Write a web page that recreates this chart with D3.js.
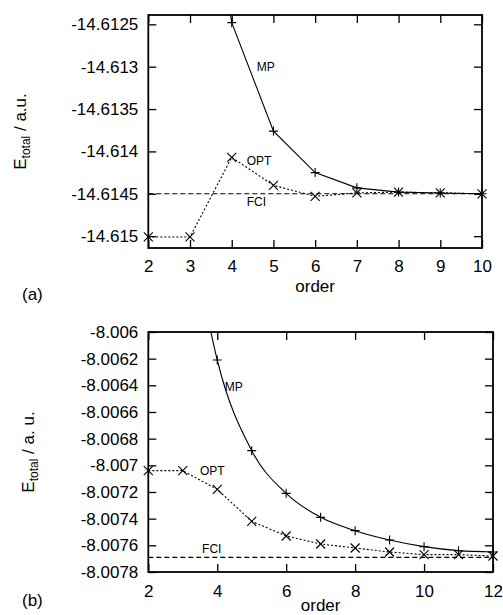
<!DOCTYPE html>
<html>
<head>
<meta charset="utf-8">
<script src="https://cdn.jsdelivr.net/npm/d3@7"></script>
<style>
  html, body { margin: 0; padding: 0; background: #fff; }
  svg { display: block; }
  text { font-family: "Liberation Sans", Arial, Helvetica, sans-serif; fill: #000; }
</style>
</head>
<body>
<script>
// ---------- data ----------
const ordersA = [2, 3, 4, 5, 6, 7, 8, 9, 10];
const mpA  = [null, -14.6092, -14.61248, -14.61376, -14.61425, -14.61443, -14.61448, -14.61449, -14.61450];
const optA = [-14.61501, -14.61501, -14.61407, -14.61440, -14.61453, -14.61449, -14.61448, -14.61449, -14.61450];
const fciA = -14.61450;
const yTicksA = [-14.6125, -14.613, -14.6135, -14.614, -14.6145, -14.615];
const xTicksA = [2, 3, 4, 5, 6, 7, 8, 9, 10];

const ordersB = [2, 3, 4, 5, 6, 7, 8, 9, 10, 11, 12];
const mpB  = [null, -8.0048, -8.00621, -8.00689, -8.00721, -8.00739, -8.00749, -8.00756, -8.00761, -8.00764, -8.00765];
const optB = [-8.00704, -8.00704, -8.00718, -8.00742, -8.00753, -8.00759, -8.00762, -8.00765, -8.00767, -8.00767, -8.00768];
const fciB = -8.00769;
const yTicksB = [-8.006, -8.0062, -8.0064, -8.0066, -8.0068, -8.007, -8.0072, -8.0074, -8.0076, -8.0078];
const xTicksB = [2, 4, 6, 8, 10, 12];

// ---------- drawing ----------
const W = 503, H = 615;
const svg = d3.select("body").append("svg").attr("width", W).attr("height", H);
svg.append("rect").attr("width", W).attr("height", H).attr("fill", "#fff");

const fmt = d => String(+d.toFixed(5));

function panel(cfg) {
  const x = d3.scaleLinear().domain(cfg.xDomain).range([cfg.left, cfg.right]);
  const y = d3.scaleLinear().domain(cfg.yDomain).range([cfg.bottom, cfg.top]);
  const g = svg.append("g");

  const clipId = "clip" + cfg.id;
  svg.append("clipPath").attr("id", clipId).append("rect")
    .attr("x", cfg.left).attr("y", cfg.top)
    .attr("width", cfg.right - cfg.left).attr("height", cfg.bottom - cfg.top);

  const styleAxis = sel => {
    sel.select(".domain").remove();
    sel.selectAll(".tick line").attr("stroke", "#000").attr("stroke-width", 1.3);
    sel.selectAll("text").style("font-size", "17px").attr("fill", "#000");
  };

  g.append("g").attr("transform", `translate(${cfg.left},0)`)
    .call(d3.axisLeft(y).tickValues(cfg.yTicks).tickFormat(fmt).tickSizeInner(-8).tickSizeOuter(0).tickPadding(10))
    .call(styleAxis);
  g.append("g").attr("transform", `translate(${cfg.right},0)`)
    .call(d3.axisRight(y).tickValues(cfg.yTicks).tickFormat("").tickSizeInner(-8).tickSizeOuter(0))
    .call(styleAxis);
  g.append("g").attr("transform", `translate(0,${cfg.bottom})`)
    .call(d3.axisBottom(x).tickValues(cfg.xTicks).tickFormat(d3.format("d")).tickSizeInner(-8).tickSizeOuter(0).tickPadding(cfg.xPad))
    .call(styleAxis);
  g.append("g").attr("transform", `translate(0,${cfg.top})`)
    .call(d3.axisTop(x).tickValues(cfg.xTicks).tickFormat("").tickSizeInner(-8).tickSizeOuter(0))
    .call(styleAxis);

  // FCI dashed line
  g.append("line").attr("clip-path", `url(#${clipId})`)
    .attr("x1", cfg.left).attr("x2", cfg.right)
    .attr("y1", y(cfg.fci)).attr("y2", y(cfg.fci))
    .attr("stroke", "#000").attr("stroke-width", 1.1).attr("stroke-dasharray", "5,3");

  const mpData = cfg.orders.map((o, i) => ({ o, v: cfg.mp[i] })).filter(d => d.v !== null);
  const optData = cfg.orders.map((o, i) => ({ o, v: cfg.opt[i] })).filter(d => d.v !== null);

  const lineMP = d3.line().x(d => x(d.o)).y(d => y(d.v)).curve(cfg.mpCurve);
  const lineOPT = d3.line().x(d => x(d.o)).y(d => y(d.v));

  g.append("path").datum(mpData).attr("clip-path", `url(#${clipId})`)
    .attr("d", lineMP).attr("fill", "none").attr("stroke", "#000").attr("stroke-width", 1.1);
  g.append("path").datum(optData).attr("clip-path", `url(#${clipId})`)
    .attr("d", lineOPT).attr("fill", "none").attr("stroke", "#000").attr("stroke-width", 1.1)
    .attr("stroke-dasharray", "2,2");

  const s = 4.5;
  const inView = d => y(d.v) >= cfg.top - 1 && y(d.v) <= cfg.bottom + 1;
  g.selectAll(".mpm").data(mpData.filter(inView)).join("path")
    .attr("d", d => `M${x(d.o) - s},${y(d.v)}H${x(d.o) + s}M${x(d.o)},${y(d.v) - s}V${y(d.v) + s}`)
    .attr("stroke", "#000").attr("stroke-width", 1.1).attr("fill", "none");
  g.selectAll(".optm").data(optData.filter(inView)).join("path")
    .attr("d", d => `M${x(d.o) - s},${y(d.v) - s}L${x(d.o) + s},${y(d.v) + s}M${x(d.o) - s},${y(d.v) + s}L${x(d.o) + s},${y(d.v) - s}`)
    .attr("stroke", "#000").attr("stroke-width", 1.1).attr("fill", "none");

  // frame
  g.append("rect").attr("x", cfg.left).attr("y", cfg.top)
    .attr("width", cfg.right - cfg.left).attr("height", cfg.bottom - cfg.top)
    .attr("fill", "none").attr("stroke", "#000").attr("stroke-width", 1.8);

  // series labels
  cfg.labels.forEach(l => {
    g.append("text").attr("x", x(l.o)).attr("y", y(l.v))
      .style("font-size", "12px").text(l.t);
  });

  // axis title x
  g.append("text").attr("x", (cfg.left + cfg.right) / 2).attr("y", cfg.orderY)
    .attr("text-anchor", "middle").style("font-size", "17px").text("order");

  // axis title y
  const yt = g.append("text")
    .attr("transform", `translate(${cfg.yTitleX},${(cfg.top + cfg.bottom) / 2}) rotate(-90)`)
    .attr("text-anchor", "middle").style("font-size", "17px");
  yt.append("tspan").text("E");
  yt.append("tspan").attr("dy", 4).style("font-size", "12px").text("total");
  yt.append("tspan").attr("dy", -4).text(cfg.unit);

  // panel tag
  g.append("text").attr("x", 22).attr("y", cfg.tagY).style("font-size", "17px").text(cfg.tag);
}

panel({
  id: "a", left: 148.3, right: 482, top: 15, bottom: 248,
  xDomain: [2, 10], yDomain: [-14.61514, -14.61239],
  orders: ordersA, mp: mpA, opt: optA, fci: fciA,
  yTicks: yTicksA, xTicks: xTicksA, xPad: 12, mpCurve: d3.curveLinear,
  labels: [
    { t: "MP", o: 4.6, v: -14.61305 },
    { t: "OPT", o: 4.36, v: -14.61416 },
    { t: "FCI", o: 4.36, v: -14.61465 }
  ],
  orderY: 292, yTitleX: 26, unit: " / a.u.", tag: "(a)", tagY: 300
});

panel({
  id: "b", left: 148.3, right: 493, top: 332, bottom: 572,
  xDomain: [2, 12], yDomain: [-8.0078, -8.006],
  orders: ordersB, mp: mpB, opt: optB, fci: fciB,
  yTicks: yTicksB, xTicks: xTicksB, xPad: 13, mpCurve: d3.curveMonotoneX,
  labels: [
    { t: "MP", o: 4.22, v: -8.00644 },
    { t: "OPT", o: 3.5, v: -8.00707 },
    { t: "FCI", o: 3.56, v: -8.00766 }
  ],
  orderY: 611, yTitleX: 34, unit: " / a. u.", tag: "(b)", tagY: 606
});
</script>
</body>
</html>
